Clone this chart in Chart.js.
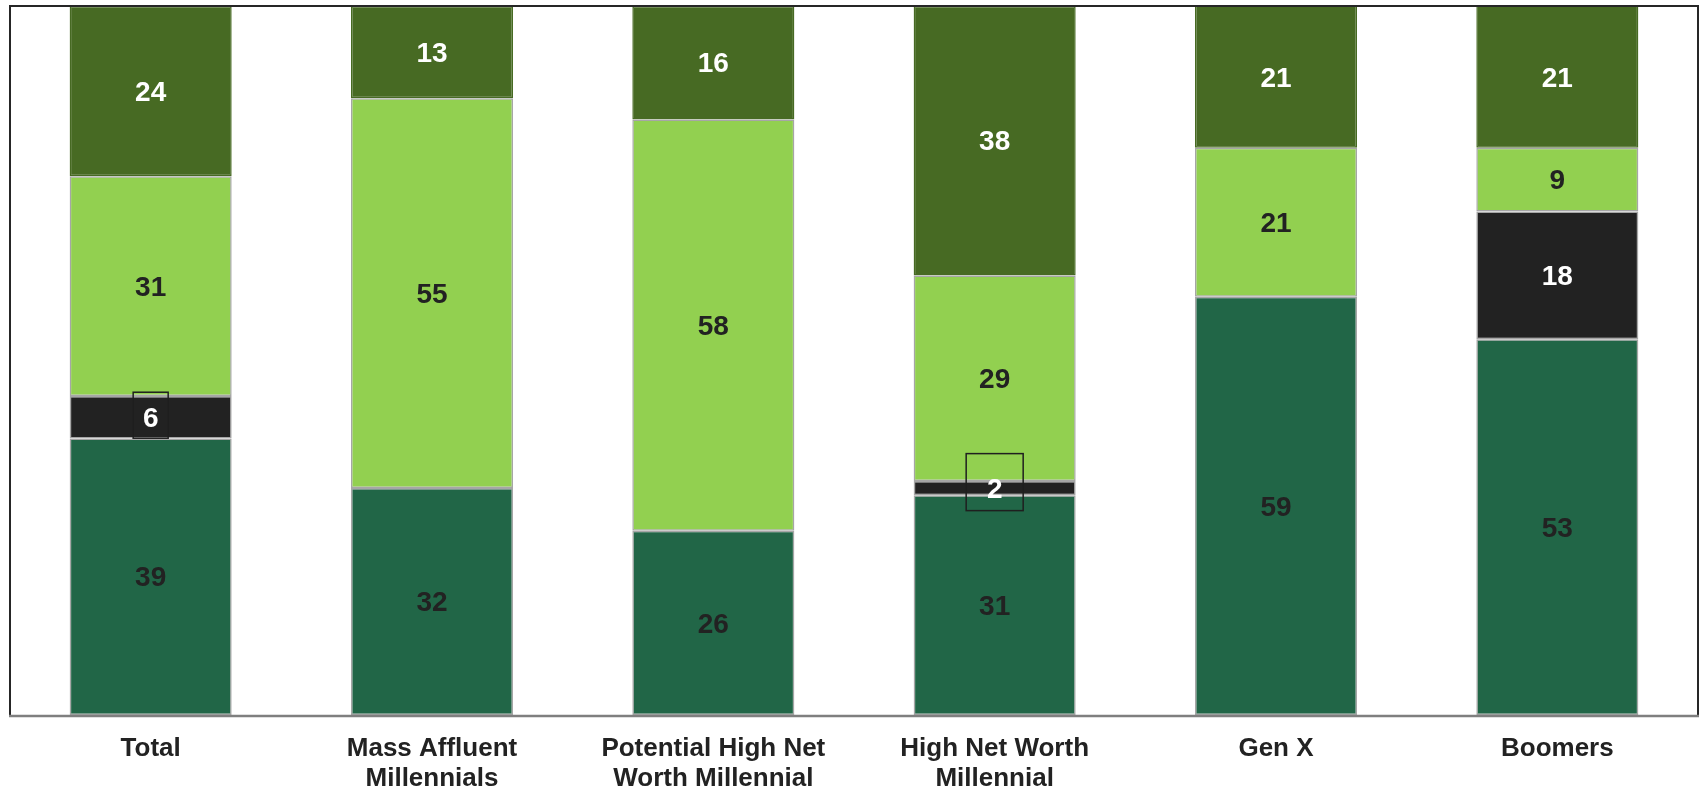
<!DOCTYPE html>
<html>
<head>
<meta charset="utf-8">
<script src="https://cdn.jsdelivr.net/npm/chart.js@4/dist/chart.umd.min.js"></script>
<style>
  html, body { margin: 0; padding: 0; background: #ffffff; }
  #wrap { width: 1700px; height: 789px; position: relative; }
</style>
</head>
<body>
<div id="wrap"><canvas id="chart"></canvas></div>
<script>
// Category labels (each entry is a list of lines)
const categories = [
  ['Total'],
  ['Mass Affluent', 'Millennials'],
  ['Potential High Net', 'Worth Millennial'],
  ['High Net Worth', 'Millennial'],
  ['Gen X'],
  ['Boomers']
];

// Stacked shares, bottom to top
const seriesBase  = [39, 32, 26, 31, 59, 53];
const seriesDark  = [6, 0, 0, 2, 0, 18];
const seriesLight = [31, 55, 58, 29, 21, 9];
const seriesTop   = [24, 13, 16, 38, 21, 21];

const yMin = 0;
const yMax = 100;

const FONT = "'Liberation Sans', Arial, Helvetica, sans-serif";

// Value labels that carry an outlined box: key "category,dataset" -> [w, h, dy]
const boxedLabels = { '0,1': [35, 46, -2], '3,1': [57, 57, -6] };

const valueLabels = {
  id: 'valueLabels',
  afterDatasetsDraw(chart) {
    const ctx = chart.ctx;
    const area = chart.chartArea;
    ctx.save();
    ctx.font = 'bold 28px ' + FONT;
    ctx.textAlign = 'center';
    ctx.textBaseline = 'middle';
    chart.data.datasets.forEach((ds, di) => {
      const meta = chart.getDatasetMeta(di);
      meta.data.forEach((bar, i) => {
        const v = ds.data[i];
        if (!v) return;
        const top = Math.max(Math.min(bar.y, bar.base), area.top);
        const bottom = Math.min(Math.max(bar.y, bar.base), area.bottom);
        const mid = (top + bottom) / 2;
        const box = boxedLabels[i + ',' + di];
        if (box) {
          ctx.strokeStyle = '#1f1f1f';
          ctx.lineWidth = 1.5;
          ctx.strokeRect(bar.x - box[0] / 2, mid + box[2] - box[1] / 2, box[0], box[1]);
        }
        ctx.fillStyle = ds.labelColor;
        ctx.fillText(String(v), bar.x, mid + 2);
      });
    });
    ctx.restore();
  }
};

const frameAndAxis = {
  id: 'frameAndAxis',
  afterDraw(chart) {
    const ctx = chart.ctx;
    const a = chart.chartArea;
    const xs = chart.scales.x;
    ctx.save();
    // plot frame
    ctx.strokeStyle = '#262626';
    ctx.lineWidth = 2;
    ctx.beginPath();
    ctx.moveTo(a.left, a.bottom);
    ctx.lineTo(a.left, a.top);
    ctx.lineTo(a.right, a.top);
    ctx.lineTo(a.right, a.bottom);
    ctx.stroke();
    ctx.strokeStyle = '#7f7f7f';
    ctx.lineWidth = 2.5;
    ctx.beginPath();
    ctx.moveTo(a.left - 1, a.bottom + 1);
    ctx.lineTo(a.right + 1, a.bottom + 1);
    ctx.stroke();
    // category labels
    ctx.font = 'bold 26px ' + FONT;
    ctx.fillStyle = '#222222';
    ctx.textAlign = 'center';
    ctx.textBaseline = 'middle';
    categories.forEach((lines, i) => {
      const x = xs.getPixelForValue(i);
      lines.forEach((t, k) => ctx.fillText(t, x, a.bottom + 34 + k * 30));
    });
    ctx.restore();
  }
};

new Chart(document.getElementById('chart'), {
  type: 'bar',
  data: {
    labels: categories.map(c => c.join(' ')),
    datasets: [
      { label: 'Base', data: seriesBase, backgroundColor: '#216647', borderColor: '#a6a6a6', labelColor: '#222222' },
      { label: 'Dark', data: seriesDark, backgroundColor: '#222222', borderColor: '#a6a6a6', labelColor: '#ffffff' },
      { label: 'Light', data: seriesLight, backgroundColor: '#92d050', borderColor: '#a6a6a6', labelColor: '#222222' },
      { label: 'Top', data: seriesTop, backgroundColor: '#476a23', borderColor: '#476a23', labelColor: '#ffffff' }
    ].map(d => Object.assign(d, { borderWidth: 1.5, borderSkipped: false, barPercentage: 0.576, categoryPercentage: 1 }))
  },
  options: {
    responsive: true,
    maintainAspectRatio: false,
    animation: false,
    layout: { padding: { left: 10, top: 6, right: 2, bottom: 74 } },
    plugins: { legend: { display: false }, tooltip: { enabled: false } },
    scales: {
      x: { stacked: true, display: false },
      y: { stacked: true, display: false, min: yMin, max: yMax }
    }
  },
  plugins: [valueLabels, frameAndAxis]
});
</script>
</body>
</html>
